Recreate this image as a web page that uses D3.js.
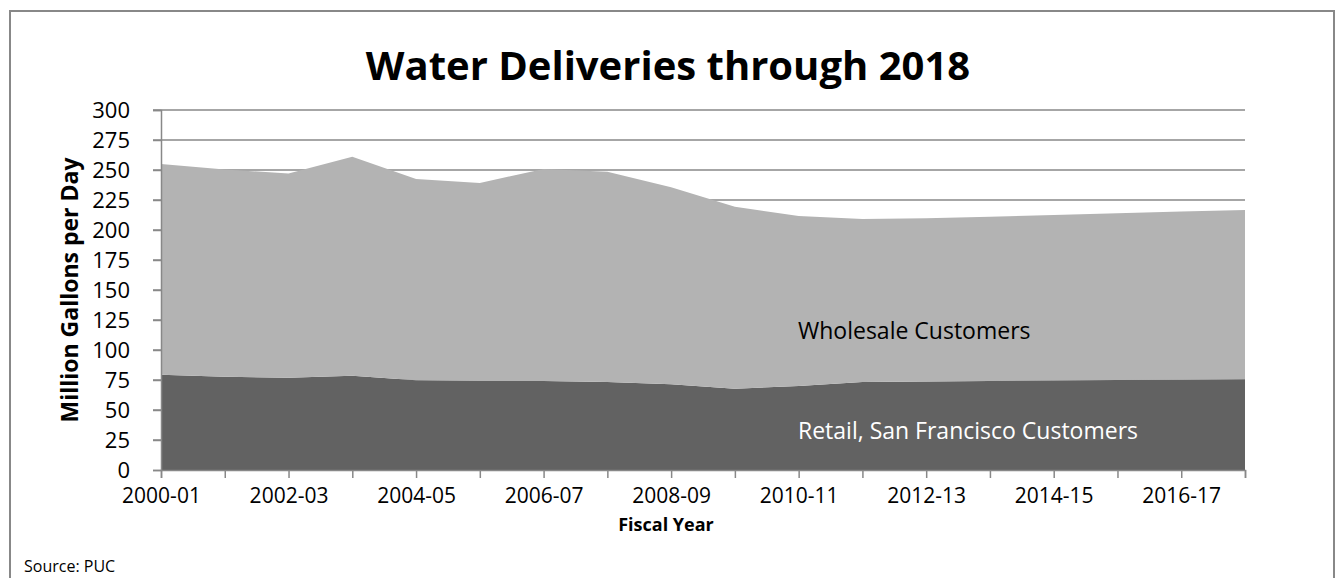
<!DOCTYPE html>
<html>
<head>
<meta charset="utf-8">
<script src="https://cdn.jsdelivr.net/npm/d3@7"></script>
<style>
  html, body { margin: 0; padding: 0; background: #fff; }
  svg { display: block; font-family: "Open Sans", sans-serif; }
</style>
</head>
<body>
<svg id="chart" width="1337" height="578"></svg>
<script>
// Fiscal years shown on the category axis
const fiscalYears = [
  "2000-01", "2001-02", "2002-03", "2003-04", "2004-05", "2005-06",
  "2006-07", "2007-08", "2008-09", "2009-10", "2010-11", "2011-12",
  "2012-13", "2013-14", "2014-15", "2015-16", "2016-17", "2017-18"
];

// Million gallons per day, retail (San Francisco) customers
const retail = [
  79.4, 77.8, 76.9, 78.6, 74.7, 74.2, 74.2, 73.3, 71.4,
  67.8, 70.0, 73.3, 73.8, 74.2, 74.6, 75.0, 75.3, 75.6
];

// Million gallons per day, wholesale customers (stacked on retail)
const wholesale = [
  175.6, 172.7, 170.1, 182.4, 167.8, 165.0, 176.6, 175.3, 164.2,
  151.6, 141.7, 135.9, 135.9, 136.8, 137.9, 139.0, 140.2, 141.1
];

const yTicks = [0, 25, 50, 75, 100, 125, 150, 175, 200, 225, 250, 275, 300];
const xLabelEvery = 2;

const seriesKeys = ["retail", "wholesale"];
const seriesNames = {
  retail: "Retail, San Francisco Customers",
  wholesale: "Wholesale Customers"
};
const seriesColors = { retail: "#626262", wholesale: "#b3b3b3" };

const rows = fiscalYears.map((fy, i) => ({ fy, retail: retail[i], wholesale: wholesale[i] }));

const svg = d3.select("#chart");
const plot = { left: 161, right: 1245, top: 110, bottom: 470 };
const axisGrey = "#888888";

// Outer chart frame
svg.append("rect")
  .attr("x", 10).attr("y", 11)
  .attr("width", 1324).attr("height", 600)
  .attr("fill", "#fff")
  .attr("stroke", axisGrey).attr("stroke-width", 2);

const x = d3.scalePoint().domain(fiscalYears).range([plot.left, plot.right]);
const y = d3.scaleLinear().domain([0, 300]).range([plot.bottom, plot.top]);

// Horizontal gridlines (behind the areas)
svg.append("g")
  .selectAll("line")
  .data(yTicks.filter(t => t > 0))
  .join("line")
  .attr("x1", plot.left - 8).attr("x2", plot.right)
  .attr("y1", d => y(d)).attr("y2", d => y(d))
  .attr("stroke", axisGrey).attr("stroke-width", 1.5);

// Stacked areas
const stack = d3.stack().keys(seriesKeys);
const layers = stack(rows);
const area = d3.area()
  .x(d => x(d.data.fy))
  .y0(d => y(d[0]))
  .y1(d => y(d[1]));

svg.append("g")
  .selectAll("path")
  .data(layers)
  .join("path")
  .attr("d", area)
  .attr("fill", d => seriesColors[d.key]);

// Y axis
const yAxis = d3.axisLeft(y).tickValues(yTicks).tickSize(8).tickPadding(23);
const gy = svg.append("g")
  .attr("transform", `translate(${plot.left},0)`)
  .call(yAxis);
gy.select(".domain").attr("stroke", axisGrey).attr("stroke-width", 1.5);
gy.selectAll(".tick line").attr("stroke", axisGrey).attr("stroke-width", 1.5);
gy.selectAll(".tick text")
  .attr("fill", "#000")
  .style("font-size", "22px")
  .style("font-family", "'Open Sans', sans-serif");

// X axis
const xAxis = d3.axisBottom(x)
  .tickSize(8).tickPadding(10)
  .tickFormat((d, i) => (i % xLabelEvery === 0 ? d : ""));
const gx = svg.append("g")
  .attr("transform", `translate(0,${plot.bottom})`)
  .call(xAxis);
gx.select(".domain").attr("stroke", axisGrey).attr("stroke-width", 1.5);
gx.selectAll(".tick line").attr("stroke", axisGrey).attr("stroke-width", 1.5);
gx.selectAll(".tick text")
  .attr("fill", "#000")
  .style("font-size", "21px")
  .style("font-family", "'Open Sans', sans-serif");

// Title
svg.append("text")
  .attr("x", 668).attr("y", 80)
  .attr("text-anchor", "middle")
  .style("font-size", "40px").style("font-weight", "700")
  .text("Water Deliveries through 2018");

// Axis titles
svg.append("text")
  .attr("transform", `translate(78,${(plot.top + plot.bottom) / 2}) rotate(-90)`)
  .attr("text-anchor", "middle")
  .style("font-size", "23px").style("font-weight", "700")
  .text("Million Gallons per Day");

svg.append("text")
  .attr("x", 666).attr("y", 531)
  .attr("text-anchor", "middle")
  .style("font-size", "18px").style("font-weight", "700")
  .text("Fiscal Year");

// Series labels placed inside their bands
svg.append("text")
  .attr("x", 798).attr("y", 339)
  .attr("fill", "#000")
  .style("font-size", "23px")
  .text(seriesNames.wholesale);

svg.append("text")
  .attr("x", 798).attr("y", 439)
  .attr("fill", "#fff")
  .style("font-size", "23px")
  .text(seriesNames.retail);

// Source note
svg.append("text")
  .attr("x", 24).attr("y", 572)
  .style("font-size", "16px")
  .text("Source: PUC");
</script>
</body>
</html>
